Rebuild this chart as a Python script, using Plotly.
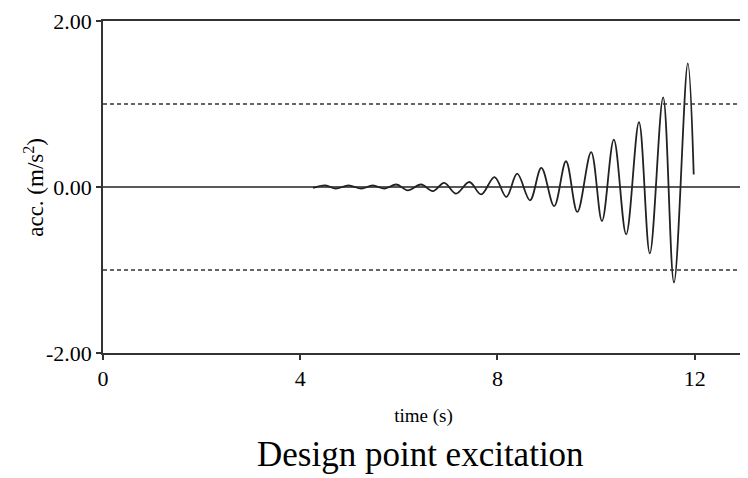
import plotly.graph_objects as go

# Extrema of the excitation signal
time_s = [4.26, 4.51, 4.72, 4.98, 5.24, 5.47, 5.71, 5.95, 6.18, 6.45, 6.69,
          6.92, 7.16, 7.43, 7.67, 7.94, 8.18, 8.40, 8.66, 8.89, 9.15, 9.39,
          9.62, 9.90, 10.12, 10.36, 10.61, 10.87, 11.09, 11.36, 11.58, 11.86,
          11.98]
acc = [-0.01, 0.02, -0.02, 0.02, -0.02, 0.02, -0.02, 0.03, -0.04, 0.03, -0.05,
       0.05, -0.08, 0.06, -0.09, 0.12, -0.12, 0.16, -0.16, 0.23, -0.23, 0.31,
       -0.30, 0.42, -0.41, 0.57, -0.57, 0.78, -0.80, 1.08, -1.15, 1.49,
       0.15]

limits = [1.0, -1.0]
x_ticks = [0, 4, 8, 12]
y_ticks = [-2, 0, 2]
y_tick_labels = ["-2.00", "0.00", "2.00"]
x_range = [0, 13]
y_range = [-2, 2]

FONT = "Liberation Serif"

fig = go.Figure()
fig.add_trace(go.Scatter(
    x=time_s, y=acc, mode="lines",
    line=dict(color="#222222", width=1.8, shape="spline", smoothing=1.0),
    showlegend=False, hoverinfo="skip",
))

for v in limits:
    fig.add_hline(y=v, line=dict(color="#333333", width=1.5, dash="4px,3px"))
fig.add_hline(y=0, line=dict(color="#222222", width=1.5))

axis_common = dict(
    showline=True, linecolor="#333333", linewidth=1.5, mirror=True,
    showgrid=False, zeroline=False, ticks="outside", ticklen=5,
    tickwidth=1.5, tickcolor="#333333", automargin=False,
    tickfont=dict(family=FONT, size=22, color="#000000"),
)

fig.update_xaxes(
    range=x_range, tickvals=x_ticks,
    title=dict(text="time (s)", font=dict(family=FONT, size=19, color="#000"),
               standoff=19),
    **axis_common,
)
fig.update_yaxes(
    range=y_range, tickvals=y_ticks, ticktext=y_tick_labels,
    **axis_common,
)

# y-axis title (placed as rotated text to match the reference position)
fig.add_annotation(
    text="acc. (m/s<sup>2</sup>)", xref="paper", yref="paper",
    x=-0.108, y=0.5, xanchor="center", yanchor="middle", textangle=-90,
    showarrow=False, font=dict(family=FONT, size=23, color="#000000"),
)

fig.add_annotation(
    text="Design point excitation", xref="paper", yref="paper",
    x=0.495, y=-0.307, xanchor="center", yanchor="middle", showarrow=False,
    font=dict(family=FONT, size=35, color="#000000"),
)

fig.update_layout(
    width=740, height=470,
    margin=dict(l=95, r=4, t=13, b=125),
    paper_bgcolor="white", plot_bgcolor="white",
)

fig.write_html("out.html")
